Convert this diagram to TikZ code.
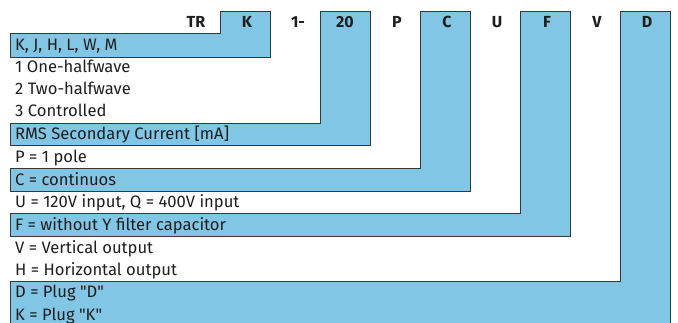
\documentclass[tikz,border=0pt]{standalone}
\usepackage{fontspec}
\newfontfamily\dinlike{Fira Sans}
\definecolor{barblue}{RGB}{130,198,230}
\definecolor{edge}{RGB}{55,55,55}
\definecolor{txt}{RGB}{30,30,30}
\begin{document}
\begin{tikzpicture}[x=1pt,y=-1pt,
  lshape/.style={fill=barblue,draw=edge,line width=0.9pt,line join=miter},
  hdr/.style={font=\dinlike\fontsize{16}{16}\selectfont\bfseries,text=txt,anchor=base,inner sep=0pt},
  desc/.style={font=\dinlike\fontsize{16.6}{16.6}\selectfont,text=txt,anchor=base west,inner sep=0pt}]
\useasboundingbox (0,0) rectangle (678,322);
\begin{scope}
\clip (0,0) rectangle (678,322);
% L-shaped bars
\draw[lshape] (620,11) -- (670,11) -- (670,330) -- (10,330) -- (10,281) -- (620,281) -- cycle;
\draw[lshape] (520,11) -- (570,11) -- (570,236) -- (10,236) -- (10,213) -- (520,213) -- cycle;
\draw[lshape] (420,11) -- (470,11) -- (470,191) -- (10,191) -- (10,168) -- (420,168) -- cycle;
\draw[lshape] (320,11) -- (370,11) -- (370,145) -- (10,145) -- (10,123) -- (320,123) -- cycle;
\draw[lshape] (220,11) -- (270,11) -- (270,57) -- (10,57) -- (10,33) -- (220,33) -- cycle;
\end{scope}
% header letters
\node[hdr] (hTR) at (196,27) {TR};
\node[hdr] (hK)  at (247,27) {K};
\node[hdr] (h1)  at (298,27) {1-};
\node[hdr] (h20) at (345,27) {20};
\node[hdr] (hP)  at (397,27) {P};
\node[hdr] (hC)  at (447,27) {C};
\node[hdr] (hU)  at (497,27) {U};
\node[hdr] (hF)  at (547,27) {F};
\node[hdr] (hV)  at (597,27) {V};
\node[hdr] (hD)  at (647,27) {D};
% descriptions
\node[desc] (d1)  at (15,50)  {K, J, H, L, W, M};
\node[desc] (d2)  at (15,72)  {1 One-halfwave};
\node[desc] (d3)  at (15,94)  {2 Two-halfwave};
\node[desc] (d4)  at (15,116) {3 Controlled};
\node[desc] (d5)  at (15,139) {RMS Secondary Current [mA]};
\node[desc] (d6)  at (15,162) {P = 1 pole};
\node[desc] (d7)  at (15,185) {C = continuos};
\node[desc] (d8)  at (15,207) {U = 120V input, Q = 400V input};
\node[desc] (d9)  at (15,230) {F = without Y filter capacitor};
\node[desc] (d10) at (15,253) {V = Vertical output};
\node[desc] (d11) at (15,275) {H = Horizontal output};
\node[desc] (d12) at (15,297) {D = Plug "D"};
\node[desc] (d13) at (15,320) {K = Plug "K"};
\end{tikzpicture}
\end{document}
